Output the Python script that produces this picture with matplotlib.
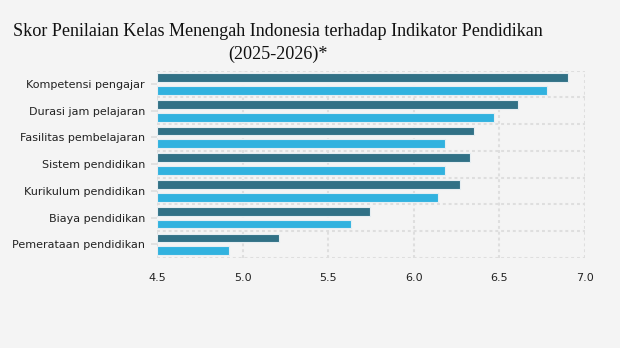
import numpy as np
import matplotlib
matplotlib.use("Agg")
import matplotlib.pyplot as plt

categories = ["Kompetensi pengajar", "Durasi jam pelajaran", "Fasilitas pembelajaran",
              "Sistem pendidikan", "Kurikulum pendidikan", "Biaya pendidikan",
              "Pemerataan pendidikan"]
score_dark = [6.90, 6.61, 6.35, 6.33, 6.27, 5.74, 5.21]
score_light = [6.78, 6.47, 6.18, 6.18, 6.14, 5.63, 4.92]
xticks = [4.5, 5.0, 5.5, 6.0, 6.5, 7.0]

BG = "#f4f4f4"
DARK = "#317186"
LIGHT = "#31b2df"
GRID = "#dedede"

fig = plt.figure(figsize=(6.2, 3.48), dpi=100)
fig.patch.set_facecolor(BG)
ax = fig.add_axes([0.254, 0.2595, 0.6895, 0.5375])
ax.set_facecolor(BG)

y = np.arange(len(categories))
h = 0.33
ax.barh(y - 0.24, np.array(score_dark) - 4.5, left=4.5, height=h, color=DARK,
        edgecolor="#e6eef2", linewidth=0.8, zorder=3)
ax.barh(y + 0.24, np.array(score_light) - 4.5, left=4.5, height=h, color=LIGHT,
        edgecolor="#e6eef2", linewidth=0.8, zorder=3)

ax.set_xlim(4.5, 7.0)
ax.set_ylim(len(categories) - 0.5, -0.5)
ax.set_xticks(xticks)
ax.set_xticklabels([f"{v:.1f}" for v in xticks], fontsize=8, color="#222222")
ax.set_yticks(y)
ax.set_yticklabels(categories, fontsize=8, color="#222222")
ax.set_yticks(np.arange(-0.5, len(categories)), minor=True)
ax.tick_params(axis="x", length=0, pad=11)
ax.tick_params(axis="y", which="major", length=4, width=1.2, color=GRID, pad=5)
ax.tick_params(axis="y", which="minor", length=0)

dash = (0, (1.4, 1.4))
ax.grid(axis="x", color=GRID, linestyle=dash, linewidth=1.5, zorder=0)
ax.grid(axis="y", which="minor", color=GRID, linestyle=dash, linewidth=1.5, zorder=0)
for s in ax.spines.values():
    s.set_visible(False)

fig.text(13 / 620, 1 - 23 / 348,
         "Skor Penilaian Kelas Menengah Indonesia terhadap Indikator Pendidikan\n(2025-2026)*",
         ha="left", va="top", multialignment="center", fontsize=13.1,
         family="Liberation Serif", color="#111111", linespacing=1.45)

plt.savefig("out.png", dpi=100, facecolor=BG)
